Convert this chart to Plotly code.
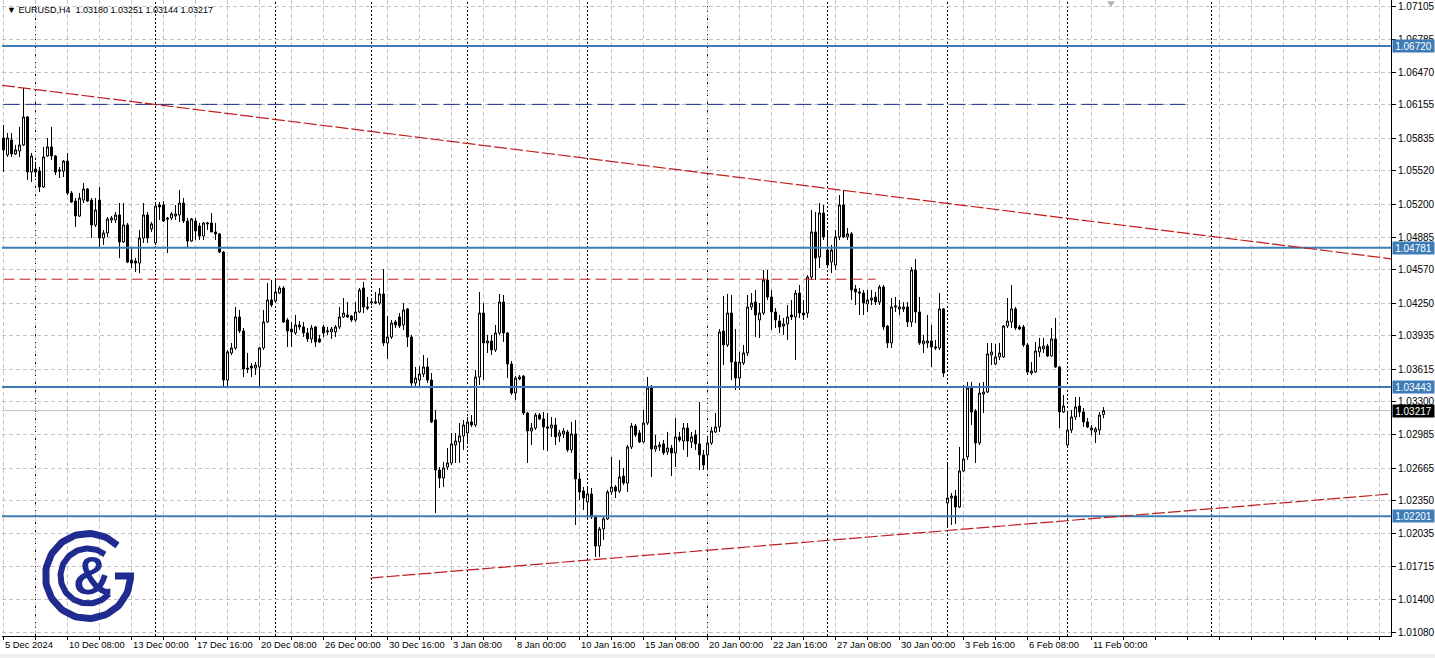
import math
import plotly.graph_objects as go

# ---------------- data (EURUSD H4) ----------------
opens = [
    1.05837, 1.05674, 1.05818, 1.05684, 1.05712, 1.05770, 1.06039, 1.05510, 1.05539, 1.05519,
    1.05366, 1.05664, 1.05751, 1.05664, 1.05529, 1.05519, 1.05615, 1.05308, 1.05231, 1.05087,
    1.05241, 1.05347, 1.05241, 1.05001, 1.05241, 1.04876, 1.04924, 1.05049, 1.05049, 1.05097,
    1.04838, 1.05001, 1.04664, 1.04654, 1.04635, 1.04876, 1.05097, 1.04963, 1.04828, 1.05193,
    1.05193, 1.05068, 1.05068, 1.05087, 1.05097, 1.05212, 1.05039, 1.04847, 1.05039, 1.04991,
    1.04895, 1.05011, 1.05020, 1.04934, 1.04915, 1.04741, 1.03511, 1.03771, 1.03819, 1.04117,
    1.03982, 1.03626, 1.03645, 1.03626, 1.03636, 1.03819, 1.04069, 1.04280, 1.04270, 1.04347,
    1.04395, 1.04088, 1.04001, 1.03963, 1.04040, 1.04021, 1.03963, 1.03906, 1.04021, 1.03906,
    1.04021, 1.03973, 1.03973, 1.03973, 1.04021, 1.04117, 1.04136, 1.04126, 1.04088, 1.04165,
    1.04395, 1.04213, 1.04251, 1.04251, 1.04251, 1.04338, 1.03867, 1.03925, 1.04069, 1.04117,
    1.04040, 1.04194, 1.03925, 1.03482, 1.03511, 1.03569, 1.03636, 1.03511, 1.03127, 1.02646,
    1.02569, 1.02675, 1.02714, 1.02887, 1.02916, 1.02973, 1.03002, 1.03108, 1.03079, 1.03540,
    1.04155, 1.03867, 1.03886, 1.03800, 1.03963, 1.04261, 1.03963, 1.03665, 1.03386, 1.03521,
    1.03549, 1.03194, 1.03021, 1.03050, 1.03175, 1.03137, 1.03060, 1.03050, 1.03079, 1.02973,
    1.02993, 1.03012, 1.02839, 1.02993, 1.02560, 1.02444, 1.02339, 1.02416, 1.02195, 1.01916,
    1.02080, 1.02176, 1.02435, 1.02483, 1.02444, 1.02588, 1.02521, 1.02868, 1.03069, 1.03002,
    1.02916, 1.03098, 1.03444, 1.02848, 1.02868, 1.02897, 1.02820, 1.02858, 1.02810, 1.02964,
    1.02925, 1.03050, 1.02916, 1.02983, 1.02897, 1.02791, 1.02791, 1.02906, 1.03012, 1.03060,
    1.03982, 1.03848, 1.04155, 1.03684, 1.03530, 1.03674, 1.03771, 1.04213, 1.04261, 1.04088,
    1.04155, 1.04472, 1.04309, 1.04165, 1.04078, 1.04030, 1.04050, 1.04136, 1.04117, 1.04347,
    1.04155, 1.04155, 1.04501, 1.04934, 1.04693, 1.05116, 1.04760, 1.04645, 1.04616, 1.04886,
    1.05193, 1.04886, 1.04915, 1.04386, 1.04357, 1.04347, 1.04242, 1.04280, 1.04309, 1.04261,
    1.04405, 1.04030, 1.03867, 1.04213, 1.04194, 1.04194, 1.04213, 1.04069, 1.04568, 1.04165,
    1.03858, 1.03867, 1.03886, 1.03829, 1.03819, 1.04194, 1.02329, 1.02377, 1.02396, 1.02291,
    1.02637, 1.02772, 1.03434, 1.03213, 1.02906, 1.03376, 1.03396, 1.03752, 1.03665, 1.03733,
    1.03733, 1.04030, 1.04069, 1.04194, 1.04021, 1.04021, 1.03848, 1.03578, 1.03588, 1.03781,
    1.03810, 1.03838, 1.03742, 1.03906, 1.03636, 1.03204, 1.02887, 1.03031, 1.03156, 1.03261,
    1.03204, 1.03108, 1.03031, 1.03012, 1.03031, 1.03180,
]
highs = [
    1.05962, 1.05885, 1.05885, 1.05770, 1.05943, 1.06317, 1.06048, 1.05693, 1.05606, 1.05558,
    1.05751, 1.05837, 1.05943, 1.05674, 1.05558, 1.05625, 1.05693, 1.05327, 1.05260, 1.05308,
    1.05404, 1.05356, 1.05260, 1.05260, 1.05366, 1.04953, 1.05078, 1.05087, 1.05126, 1.05212,
    1.05212, 1.05020, 1.04790, 1.04683, 1.04953, 1.05212, 1.05126, 1.05030, 1.05222, 1.05222,
    1.05231, 1.05078, 1.05126, 1.05193, 1.05337, 1.05260, 1.05068, 1.05068, 1.05068, 1.05020,
    1.05030, 1.05030, 1.05116, 1.05020, 1.04924, 1.04750, 1.03800, 1.03867, 1.04213, 1.04184,
    1.04011, 1.03771, 1.03674, 1.03684, 1.03829, 1.04184, 1.04443, 1.04472, 1.04482, 1.04414,
    1.04414, 1.04107, 1.04069, 1.04136, 1.04078, 1.04069, 1.04011, 1.04040, 1.04030, 1.03944,
    1.04040, 1.04021, 1.04021, 1.04040, 1.04213, 1.04299, 1.04261, 1.04136, 1.04261, 1.04395,
    1.04453, 1.04309, 1.04280, 1.04357, 1.04395, 1.04578, 1.04126, 1.04088, 1.04088, 1.04155,
    1.04251, 1.04203, 1.03944, 1.03636, 1.03645, 1.03752, 1.03723, 1.03578, 1.03223, 1.02675,
    1.02724, 1.02858, 1.03002, 1.03002, 1.03098, 1.03127, 1.03156, 1.03175, 1.03607, 1.04357,
    1.04251, 1.03944, 1.03944, 1.04040, 1.04338, 1.04328, 1.03973, 1.03694, 1.03549, 1.03559,
    1.03559, 1.03204, 1.03098, 1.03194, 1.03194, 1.03204, 1.03194, 1.03156, 1.03146, 1.03031,
    1.03050, 1.03031, 1.03108, 1.03127, 1.02617, 1.02483, 1.02483, 1.02473, 1.02214, 1.02099,
    1.02195, 1.02454, 1.02772, 1.02502, 1.02743, 1.02666, 1.02887, 1.03098, 1.03089, 1.03031,
    1.03223, 1.03540, 1.03463, 1.02983, 1.02916, 1.02935, 1.03012, 1.02887, 1.03146, 1.03012,
    1.03098, 1.03098, 1.03012, 1.03031, 1.03300, 1.02839, 1.02973, 1.03060, 1.03194, 1.04001,
    1.04318, 1.04338, 1.04328, 1.04001, 1.03781, 1.03848, 1.04328, 1.04347, 1.04376, 1.04251,
    1.04568, 1.04568, 1.04376, 1.04203, 1.04136, 1.04107, 1.04232, 1.04280, 1.04376, 1.04424,
    1.04280, 1.04520, 1.05145, 1.05126, 1.05212, 1.05193, 1.04934, 1.04809, 1.04953, 1.05289,
    1.05337, 1.04972, 1.04934, 1.04424, 1.04395, 1.04376, 1.04376, 1.04376, 1.04357, 1.04424,
    1.04424, 1.04040, 1.04299, 1.04309, 1.04280, 1.04261, 1.04261, 1.04597, 1.04674, 1.04309,
    1.03944, 1.04136, 1.04040, 1.03896, 1.04347, 1.04203, 1.02714, 1.02425, 1.02454, 1.02868,
    1.03463, 1.03492, 1.03492, 1.03232, 1.03482, 1.03492, 1.03867, 1.03867, 1.03858, 1.03867,
    1.04040, 1.04299, 1.04424, 1.04213, 1.04040, 1.04040, 1.03867, 1.03684, 1.03877, 1.03915,
    1.03915, 1.03858, 1.04011, 1.04107, 1.03645, 1.03367, 1.03204, 1.03223, 1.03348, 1.03348,
    1.03242, 1.03146, 1.03079, 1.03060, 1.03204, 1.03251,
]
lows = [
    1.05510, 1.05655, 1.05655, 1.05674, 1.05655, 1.05760, 1.05433, 1.05414, 1.05462, 1.05318,
    1.05356, 1.05655, 1.05625, 1.05481, 1.05452, 1.05462, 1.05289, 1.05212, 1.04982, 1.05078,
    1.05212, 1.05222, 1.04876, 1.04982, 1.04790, 1.04809, 1.04886, 1.05020, 1.05020, 1.04683,
    1.04828, 1.04635, 1.04587, 1.04549, 1.04539, 1.04828, 1.04828, 1.04934, 1.04809, 1.05049,
    1.05030, 1.04731, 1.05049, 1.05049, 1.05030, 1.05020, 1.04790, 1.04838, 1.04857, 1.04857,
    1.04857, 1.04953, 1.04934, 1.04857, 1.04731, 1.03434, 1.03434, 1.03752, 1.03800, 1.03963,
    1.03540, 1.03578, 1.03540, 1.03559, 1.03434, 1.03800, 1.04059, 1.04213, 1.04251, 1.04338,
    1.04059, 1.03829, 1.03829, 1.03944, 1.03992, 1.03925, 1.03877, 1.03867, 1.03829, 1.03867,
    1.03925, 1.03944, 1.03906, 1.03925, 1.04001, 1.04107, 1.04107, 1.04069, 1.04069, 1.04155,
    1.04155, 1.04184, 1.04232, 1.04242, 1.04232, 1.03838, 1.03714, 1.03906, 1.04011, 1.04011,
    1.03992, 1.03829, 1.03434, 1.03434, 1.03434, 1.03540, 1.03482, 1.03098, 1.02233, 1.02473,
    1.02483, 1.02646, 1.02695, 1.02714, 1.02714, 1.02839, 1.02906, 1.03060, 1.03060, 1.03463,
    1.03511, 1.03771, 1.03752, 1.03781, 1.03944, 1.03877, 1.03530, 1.03367, 1.03319, 1.03511,
    1.03175, 1.02714, 1.02887, 1.03031, 1.03127, 1.02839, 1.02829, 1.02964, 1.02887, 1.02916,
    1.02954, 1.02820, 1.02810, 1.02118, 1.02358, 1.02262, 1.02166, 1.02176, 1.01811, 1.01811,
    1.01974, 1.02166, 1.02406, 1.02377, 1.02425, 1.02502, 1.02435, 1.02848, 1.02964, 1.02906,
    1.02906, 1.03079, 1.02579, 1.02820, 1.02829, 1.02791, 1.02791, 1.02588, 1.02675, 1.02916,
    1.02839, 1.02772, 1.02858, 1.02839, 1.02646, 1.02646, 1.02646, 1.02887, 1.03002, 1.03012,
    1.03655, 1.03829, 1.03511, 1.03415, 1.03415, 1.03655, 1.03742, 1.04184, 1.03925, 1.03915,
    1.04136, 1.04280, 1.03992, 1.04011, 1.03963, 1.03944, 1.03896, 1.04088, 1.03703, 1.04107,
    1.04088, 1.04107, 1.04472, 1.04472, 1.04587, 1.04857, 1.04587, 1.04539, 1.04568, 1.04857,
    1.04876, 1.04857, 1.04280, 1.04232, 1.04136, 1.04136, 1.04165, 1.04232, 1.04232, 1.04232,
    1.03992, 1.03819, 1.03819, 1.04165, 1.04136, 1.04165, 1.04021, 1.04021, 1.04059, 1.03848,
    1.03771, 1.03819, 1.03636, 1.03800, 1.03800, 1.03540, 1.02099, 1.02118, 1.02128, 1.02281,
    1.02627, 1.02743, 1.03079, 1.02714, 1.02887, 1.03194, 1.03386, 1.03655, 1.03655, 1.03703,
    1.03723, 1.04011, 1.04011, 1.03992, 1.03992, 1.03829, 1.03559, 1.03559, 1.03578, 1.03733,
    1.03771, 1.03733, 1.03733, 1.03626, 1.03050, 1.03194, 1.02868, 1.03002, 1.03127, 1.03156,
    1.03060, 1.03050, 1.02983, 1.02906, 1.02983, 1.03144,
]
closes = [
    1.05722, 1.05837, 1.05684, 1.05722, 1.05770, 1.06039, 1.05510, 1.05664, 1.05510, 1.05366,
    1.05655, 1.05751, 1.05664, 1.05510, 1.05519, 1.05615, 1.05308, 1.05222, 1.05087, 1.05260,
    1.05347, 1.05231, 1.05001, 1.05145, 1.04876, 1.04924, 1.05059, 1.05068, 1.05097, 1.04838,
    1.05001, 1.04645, 1.04635, 1.04635, 1.04876, 1.05097, 1.04876, 1.05011, 1.05183, 1.05174,
    1.05039, 1.05059, 1.05107, 1.05107, 1.05212, 1.05039, 1.04847, 1.05059, 1.04943, 1.04895,
    1.05020, 1.05020, 1.04934, 1.04915, 1.04741, 1.03511, 1.03781, 1.03819, 1.04117, 1.03982,
    1.03617, 1.03617, 1.03626, 1.03655, 1.03819, 1.04069, 1.04280, 1.04232, 1.04357, 1.04395,
    1.04069, 1.03982, 1.03973, 1.04040, 1.04021, 1.03963, 1.03906, 1.04011, 1.03877, 1.03877,
    1.03963, 1.03982, 1.04001, 1.04021, 1.04117, 1.04155, 1.04117, 1.04088, 1.04165, 1.04376,
    1.04213, 1.04203, 1.04261, 1.04261, 1.04338, 1.03867, 1.03925, 1.04059, 1.04040, 1.04030,
    1.04184, 1.03925, 1.03482, 1.03530, 1.03569, 1.03636, 1.03511, 1.03108, 1.02646, 1.02569,
    1.02666, 1.02714, 1.02897, 1.02925, 1.02973, 1.03079, 1.03108, 1.03079, 1.03540, 1.04155,
    1.03867, 1.03886, 1.03800, 1.03963, 1.04261, 1.03963, 1.03665, 1.03386, 1.03530, 1.03540,
    1.03194, 1.03021, 1.03050, 1.03175, 1.03137, 1.03060, 1.03050, 1.03079, 1.02964, 1.03002,
    1.03021, 1.02839, 1.02993, 1.02560, 1.02435, 1.02377, 1.02416, 1.02195, 1.01916, 1.02080,
    1.02176, 1.02435, 1.02483, 1.02444, 1.02579, 1.02521, 1.02868, 1.03069, 1.02983, 1.02916,
    1.03098, 1.03434, 1.02848, 1.02877, 1.02887, 1.02810, 1.02858, 1.02810, 1.02964, 1.02935,
    1.03050, 1.02925, 1.02964, 1.02897, 1.02791, 1.02695, 1.02906, 1.03021, 1.03060, 1.03973,
    1.03848, 1.04155, 1.03684, 1.03530, 1.03684, 1.03771, 1.04213, 1.04251, 1.04136, 1.04155,
    1.04472, 1.04309, 1.04165, 1.04088, 1.04021, 1.04050, 1.04117, 1.04117, 1.04347, 1.04155,
    1.04136, 1.04501, 1.04934, 1.04683, 1.05116, 1.04886, 1.04616, 1.04760, 1.04886, 1.05193,
    1.04886, 1.04915, 1.04376, 1.04357, 1.04347, 1.04251, 1.04280, 1.04299, 1.04261, 1.04405,
    1.04021, 1.03867, 1.04213, 1.04222, 1.04213, 1.04213, 1.04069, 1.04568, 1.04165, 1.03867,
    1.03886, 1.03886, 1.03829, 1.03819, 1.04194, 1.03578, 1.02377, 1.02396, 1.02291, 1.02637,
    1.02752, 1.03434, 1.03204, 1.02906, 1.03386, 1.03396, 1.03762, 1.03781, 1.03733, 1.03771,
    1.04030, 1.04078, 1.04194, 1.04011, 1.04001, 1.03848, 1.03588, 1.03597, 1.03790, 1.03829,
    1.03838, 1.03742, 1.03906, 1.03636, 1.03204, 1.03261, 1.03031, 1.03156, 1.03252, 1.03204,
    1.03108, 1.03060, 1.03050, 1.03041, 1.03175, 1.03217,
]
bars = list(range(len(closes)))

x_label_bars = [0, 16, 32, 48, 64, 80, 96, 112, 128, 144, 160, 176, 192, 208, 224, 240, 256, 272]
x_labels = ["5 Dec 2024", "10 Dec 08:00", "13 Dec 00:00", "17 Dec 16:00", "20 Dec 08:00",
            "26 Dec 00:00", "30 Dec 16:00", "3 Jan 08:00", "8 Jan 00:00", "10 Jan 16:00",
            "15 Jan 08:00", "20 Jan 00:00", "22 Jan 16:00", "27 Jan 08:00", "30 Jan 00:00",
            "3 Feb 16:00", "6 Feb 08:00", "11 Feb 00:00"]
y_ticks = [1.07105, 1.06785, 1.06470, 1.06155, 1.05835, 1.05520, 1.05200, 1.04885, 1.04570,
           1.04250, 1.03935, 1.03615, 1.03300, 1.02985, 1.02665, 1.02350, 1.02035, 1.01715,
           1.01400, 1.01080]
separator_bars = [8, 38, 68, 92, 116, 146, 176, 206, 236, 266, 302]
level_lines = [1.06720, 1.04781, 1.03443, 1.02201]
bid_price = 1.03217
navy_level, navy_end_bar = 1.06160, 296
red_level, red_end_bar = 1.04480, 218
trend_down_x, trend_down_y = [-0.375, 346.875], [1.06343, 1.04676]
trend_up_x, trend_up_y = [91.75, 346.875], [1.01608, 1.02416]
header = "\u25bc EURUSD,H4\u00a0\u00a01.03180 1.03251 1.03144 1.03217"

# ---------------- styling ----------------
FONT = "Liberation Sans, Arial, sans-serif"
BLUE = "#3D7CB7"
RED = "#BE1E1E"
NAVY = "#1A2C8A"
GRID = "#C4C4C4"
LOGO = "#1F2B8E"
X_RANGE = [-0.375, 346.875]
Y_RANGE = [1.01051, 1.07163]
PLOT_W, PLOT_H = 1389, 636

fig = go.Figure()
fig.add_trace(go.Candlestick(
    x=bars, open=opens, high=highs, low=lows, close=closes,
    increasing=dict(line=dict(color="black", width=1), fillcolor="white"),
    decreasing=dict(line=dict(color="black", width=1), fillcolor="black"),
    whiskerwidth=0, showlegend=False, hoverinfo="skip",
))

shapes = []
for b in separator_bars:
    shapes.append(dict(type="line", xref="x", yref="paper", x0=b, x1=b, y0=0, y1=1,
                       line=dict(color="black", width=1, dash="2px,2px"), layer="below"))
shapes.append(dict(type="line", xref="paper", yref="y", x0=0, x1=1, y0=bid_price, y1=bid_price,
                   line=dict(color="#BDBDBD", width=1), layer="below"))
for lv in level_lines:
    shapes.append(dict(type="line", xref="paper", yref="y", x0=0, x1=1, y0=lv, y1=lv,
                       line=dict(color=BLUE, width=2)))
shapes.append(dict(type="line", xref="x", yref="y", x0=0, x1=navy_end_bar, y0=navy_level, y1=navy_level,
                   line=dict(color=NAVY, width=1, dash="16px,6px")))
shapes.append(dict(type="line", xref="x", yref="y", x0=0, x1=red_end_bar, y0=red_level, y1=red_level,
                   line=dict(color=RED, width=1, dash="11px,5px")))
shapes.append(dict(type="line", xref="x", yref="y", x0=trend_down_x[0], x1=trend_down_x[1],
                   y0=trend_down_y[0], y1=trend_down_y[1], line=dict(color=RED, width=1.2, dash="13px,3px")))
shapes.append(dict(type="line", xref="x", yref="y", x0=trend_up_x[0], x1=trend_up_x[1],
                   y0=trend_up_y[0], y1=trend_up_y[1], line=dict(color=RED, width=1.2, dash="13px,3px")))
# light grey strip under the time scale
shapes.append(dict(type="rect", xref="paper", yref="paper", x0=-2 / PLOT_W, x1=1 + 44 / PLOT_W,
                   y0=-22 / PLOT_H, y1=-18 / PLOT_H, fillcolor="#F0F0F0", line=dict(width=0), layer="below"))

annotations = []
for b, t in zip(x_label_bars, x_labels):
    annotations.append(dict(x=b, y=0, xref="x", yref="paper", text=t, showarrow=False,
                            xanchor="left", yanchor="top", xshift=-1, yshift=-1,
                            font=dict(family=FONT, size=9.4, color="black")))
for lv in level_lines:
    annotations.append(dict(x=1, y=lv, xref="paper", yref="y", text=f"{lv:.5f}", showarrow=False,
                            xanchor="left", yanchor="middle", xshift=1, bgcolor=BLUE,
                            width=41, height=12, borderpad=0,
                            font=dict(family=FONT, size=10, color="white")))
annotations.append(dict(x=1, y=bid_price, xref="paper", yref="y", text=f"{bid_price:.5f}", showarrow=False,
                        xanchor="left", yanchor="middle", xshift=1, bgcolor="black",
                        width=41, height=12, borderpad=0,
                        font=dict(family=FONT, size=10, color="white")))
annotations.append(dict(x=5, y=10, xref="x2", yref="y2", text=header, showarrow=False,
                        xanchor="left", yanchor="middle",
                        font=dict(family=FONT, size=9, color="black")))
# logo ampersand (pixel overlay axes)
cx, cy = 88.0, 576.0
annotations.append(dict(x=cx + 4, y=cy - 1, xref="x2", yref="y2", text="<b>&</b>", showarrow=False,
                        xanchor="center", yanchor="middle",
                        font=dict(family=FONT, size=54, color=LOGO)))

# logo rings drawn in pixel coordinates
def arc(r, a0, a1, n=90):
    xs, ys = [], []
    for k in range(n + 1):
        a = math.radians(a0 + (a1 - a0) * k / n)
        xs.append(cx + r * math.cos(a))
        ys.append(cy - r * math.sin(a))
    return xs, ys

ox, oy = arc(42.5, 46, 360)
ox += [cx + 27]
oy += [cy]
fig.add_trace(go.Scatter(x=ox, y=oy, xaxis="x2", yaxis="y2", mode="lines",
                         line=dict(color=LOGO, width=7), hoverinfo="skip", showlegend=False))
ix, iy = arc(27.5, 52, 320)
fig.add_trace(go.Scatter(x=ix, y=iy, xaxis="x2", yaxis="y2", mode="lines",
                         line=dict(color=LOGO, width=6), hoverinfo="skip", showlegend=False))
# chart-shift marker at the top
fig.add_trace(go.Scatter(x=[1111], y=[3], xaxis="x2", yaxis="y2", mode="markers",
                         marker=dict(symbol="triangle-down", size=7, color="#B0B0B0"),
                         hoverinfo="skip", showlegend=False))

fig.update_layout(
    width=1435, height=658,
    margin=dict(l=2, r=44, t=0, b=22),
    paper_bgcolor="white", plot_bgcolor="white",
    showlegend=False,
    boxgap=0.5, boxgroupgap=0,
    shapes=shapes, annotations=annotations,
    xaxis=dict(range=X_RANGE, rangeslider=dict(visible=False), tickmode="linear", tick0=0, dtick=8,
               showgrid=True, gridcolor=GRID, griddash="4px,3px", gridwidth=1,
               ticks="outside", ticklen=3, tickcolor="black", showticklabels=False,
               showline=True, linecolor="black", linewidth=1, zeroline=False, fixedrange=True),
    yaxis=dict(range=Y_RANGE, side="right", tickmode="array", tickvals=y_ticks,
               ticktext=[f"{v:.5f}" for v in y_ticks],
               showgrid=True, gridcolor=GRID, griddash="4px,3px", gridwidth=1,
               ticks="outside", ticklen=4, tickcolor="black",
               tickfont=dict(family=FONT, size=10, color="black"),
               showline=True, linecolor="black", linewidth=1, zeroline=False, fixedrange=True),
    xaxis2=dict(overlaying="x", range=[2, 2 + PLOT_W], visible=False, fixedrange=True),
    yaxis2=dict(overlaying="y", range=[PLOT_H, 0], visible=False, fixedrange=True),
)

fig.write_html("out.html", config={"displayModeBar": False},
               post_script="document.body.style.margin='0px';document.body.style.overflow='hidden';")
